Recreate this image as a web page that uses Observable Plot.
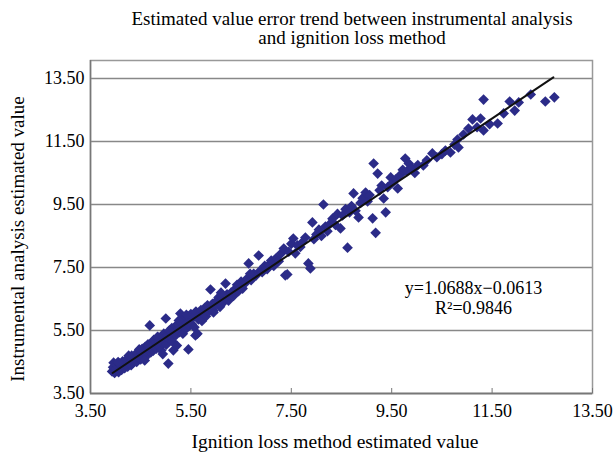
<!DOCTYPE html>
<html><head><meta charset="utf-8">
<script src="https://cdn.jsdelivr.net/npm/d3@7"></script>
<script src="https://cdn.jsdelivr.net/npm/@observablehq/plot@0.6"></script>
<style>
body{margin:0;background:#fff;}
#wrap{position:relative;width:615px;height:454px;font-family:"Liberation Serif","Times New Roman",serif;color:#000;overflow:hidden;}
.t{position:absolute;text-align:center;white-space:nowrap;}
#chart{position:absolute;left:0;top:0;}
</style></head><body>
<div id="wrap">
<div id="chart"></div>
<div class="t" style="left:52px;width:600px;top:9px;font-size:19px;line-height:19px;">Estimated value error trend between instrumental analysis<br>and ignition loss method</div>
<div class="t" style="left:35px;width:600px;top:431px;font-size:19.5px;line-height:22px;">Ignition loss method estimated value</div>
<div class="t" style="left:-282px;width:600px;top:228px;font-size:19px;line-height:22px;transform:rotate(-90deg);">Instrumental analysis estimated value</div>
</div>
<script>
const xTicks = [3.5, 5.5, 7.5, 9.5, 11.5, 13.5];
const yTicks = [3.5, 5.5, 7.5, 9.5, 11.5, 13.5];
const slope = 1.0688, intercept = -0.0613, r2 = 0.9846;
const fitRange = [3.94, 12.72];

const ignitionValues = [
3.93,3.95,3.96,3.98,4.00,4.02,4.03,4.05,4.06,4.08,4.10,4.11,4.12,4.14,4.15,4.17,4.18,4.20,4.21,4.22,
4.24,4.25,4.27,4.28,4.30,4.31,4.32,4.34,4.35,4.37,4.38,4.40,4.41,4.42,4.44,4.45,4.46,4.48,4.49,4.50,
4.52,4.53,4.55,4.56,4.57,4.59,4.60,4.62,4.63,4.65,4.66,4.68,4.69,4.70,4.72,4.73,4.75,4.76,4.78,4.80,
4.81,4.83,4.85,4.86,4.88,4.90,4.91,4.93,4.95,4.96,4.98,5.00,5.01,5.03,5.05,5.06,5.08,5.10,5.12,5.13,
5.15,5.16,5.18,5.20,5.22,5.23,5.25,5.27,5.29,5.30,5.32,5.34,5.36,5.38,5.40,5.42,5.44,5.45,5.47,5.49,
5.50,5.52,5.55,5.57,5.59,5.60,5.63,5.65,5.68,5.70,5.72,5.75,5.78,5.80,5.83,5.85,5.89,5.90,5.93,5.95,
5.95,5.98,6.02,6.05,6.08,6.12,6.15,6.19,6.22,6.25,6.30,6.35,6.40,6.45,6.50,6.53,6.58,6.62,6.65,6.70,
6.75,6.80,6.85,6.88,6.92,6.97,7.02,7.06,7.10,7.15,7.20,7.25,7.30,7.35,7.38,7.42,7.45,7.50,7.54,7.58,
7.62,7.68,7.72,7.78,7.84,7.88,7.92,7.95,8.00,8.05,8.10,8.14,8.18,8.22,8.28,8.32,8.38,8.42,8.48,8.52,
8.58,8.62,8.66,8.70,8.74,8.78,8.84,8.88,8.92,8.98,9.02,9.06,9.12,9.14,9.18,9.22,9.26,9.30,9.34,9.38,
9.42,9.48,9.52,9.58,9.62,9.68,9.72,9.77,9.80,9.84,9.90,9.96,10.02,10.13,10.20,10.31,10.40,10.50,10.57,10.67,
10.75,10.81,10.83,10.93,11.03,11.11,11.20,11.27,11.33,11.33,11.45,11.61,11.73,11.85,11.95,12.03,12.27,12.56,12.74,
4.05,4.26,4.47,4.64,4.84,5.07,5.26,5.41,4.58,4.94,6.10,6.42,6.68
];
const instrumentValues = [
4.20,4.33,4.48,4.15,4.28,4.40,4.22,4.35,4.18,4.45,4.30,4.38,4.25,4.52,4.36,4.42,4.30,4.48,4.40,4.58,
4.35,4.50,4.44,4.62,4.52,4.40,4.70,4.56,4.48,4.64,4.55,4.75,4.60,4.50,4.68,4.78,4.62,4.86,4.70,4.58,
4.80,4.92,4.72,4.85,4.62,4.98,4.80,4.90,4.72,5.05,4.88,5.66,4.95,4.80,5.10,4.98,4.86,5.20,5.02,5.12,
4.92,5.28,5.08,5.18,4.98,5.30,4.87,5.22,5.10,5.40,5.25,5.88,5.05,5.35,4.45,5.22,5.48,5.30,5.58,5.15,
4.87,5.42,5.62,5.35,5.02,5.52,5.70,5.45,6.04,5.58,5.80,5.40,5.68,5.88,5.55,5.75,5.95,4.90,5.65,5.85,
6.02,5.70,5.92,5.60,5.34,6.10,5.40,5.85,6.00,6.15,5.80,6.05,6.22,5.95,6.30,6.10,6.80,6.20,6.35,6.07,
6.13,6.30,6.45,6.55,6.25,6.50,6.40,6.99,6.65,6.45,6.70,6.60,6.85,6.75,7.05,6.83,7.00,7.15,7.63,7.10,
7.30,7.25,7.88,7.40,7.35,7.55,7.45,7.60,7.72,7.55,7.80,7.70,7.95,8.10,7.25,7.28,8.00,8.25,8.42,7.95,
8.20,8.15,8.30,8.45,7.63,7.47,8.93,8.40,8.55,8.70,8.50,9.50,8.80,8.65,8.90,9.05,8.85,9.20,8.74,9.15,
9.35,8.13,9.25,9.45,9.85,9.30,9.09,9.55,9.70,9.88,9.60,9.80,9.06,10.80,8.60,10.48,9.95,10.10,9.69,9.25,
10.05,10.36,10.20,10.30,10.01,10.45,10.60,10.96,10.55,10.80,10.65,10.50,10.75,10.74,10.90,11.12,11.00,11.10,11.21,11.15,
11.40,11.56,11.31,11.72,11.91,12.20,11.95,12.23,11.85,12.83,12.05,12.07,12.39,12.77,12.48,12.74,12.99,12.77,12.90,
4.50,4.70,4.90,5.05,5.30,5.50,5.82,6.00,4.55,4.75,6.70,6.95,7.30
];

const points = ignitionValues.map((x, i) => ({x, y: instrumentValues[i]}));
const fitLine = fitRange.map(x => ({x, y: slope * x + intercept}));
const eqText = [`y=${slope}x\u22120.0613\nR\u00b2=${r2}`];
const fmt = d3.format(".2f");

const chart = Plot.plot({
  width: 615, height: 454,
  marginLeft: 90, marginRight: 23, marginTop: 60, marginBottom: 61,
  style: {fontFamily: "'Liberation Serif', 'Times New Roman', serif", fontSize: "18px", color: "#000", background: "transparent"},
  x: {domain: [3.5, 13.5], ticks: xTicks, tickFormat: fmt, label: null},
  y: {domain: [3.5, 14.07], ticks: yTicks, tickFormat: fmt, label: null},
  marks: [
    Plot.ruleY(yTicks, {stroke: "#888", strokeWidth: 1.5}),
    Plot.frame({stroke: "#999", strokeWidth: 1.5}),
    Plot.ruleX([3.5], {stroke: "#777", strokeWidth: 1.5}),
    Plot.ruleY([3.5], {stroke: "#777", strokeWidth: 1.5}),
    Plot.axisX({ticks: xTicks, tickFormat: fmt, tickSize: -5, tickPadding: 16, stroke: "#777", fontSize: 18, label: null}),
    Plot.axisY({ticks: yTicks, tickFormat: fmt, tickSize: 0, tickPadding: 6, fontSize: 18, label: null}),
    Plot.dot(points, {x: "x", y: "y", symbol: "diamond2", r: 4.8, fill: "#2b2b88", stroke: "none"}),
    Plot.line(fitLine, {x: "x", y: "y", stroke: "#111", strokeWidth: 2}),
    Plot.text(eqText, {x: 11.13, y: 6.55, text: d => d, fontSize: 18, lineHeight: 1.12, textAnchor: "middle"})
  ]
});
document.getElementById("chart").appendChild(chart);
</script>
</body></html>
